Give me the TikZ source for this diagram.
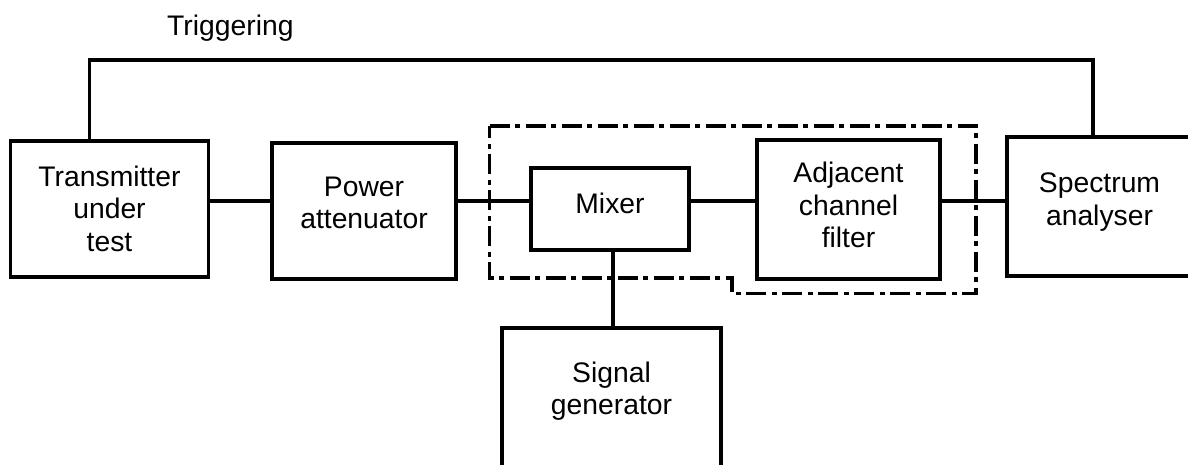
\documentclass[tikz,border=0pt]{standalone}
\usepackage{fontspec}
\setmainfont{Liberation Sans}
\begin{document}
\begin{tikzpicture}[x=1pt,y=-1pt,
  box/.style={draw, line width=3.6pt, inner sep=0pt, outer sep=0pt, minimum width=#1},
  lbl/.style={align=center, inner sep=0pt, font=\fontsize{28.3}{32.5}\selectfont},
  conn/.style={line width=3.8pt},
  border/.style={line width=3.8pt, dash pattern=on 20pt off 5.5pt on 5pt off 5.5pt}]
\clip (0,0) rectangle (1188,464);
% boxes
\node[box=198pt, minimum height=136pt] (tx) at (109.5,209) {};
\node[box=184pt, minimum height=136pt] (pa) at (364,211) {};
\node[box=158pt, minimum height=82pt] (mx) at (610,209) {};
\node[box=183pt, minimum height=139pt] (fl) at (848.5,209.5) {};
\node[box=200pt, minimum height=139pt] (sa) at (1107,206.3) {};
\node[box=219pt, minimum height=160pt] (sg) at (611.5,408) {};
% labels
\node[lbl] (txt) at (109.5,208.5) {Transmitter\\under\\test};
\node[lbl] (pat) at (364,203) {Power\\attenuator};
\node[lbl] (mxt) at (610,203) {Mixer};
\node[lbl] (flt) at (848.5,205) {Adjacent\\channel\\filter};
\node[lbl] (sat) at (1099.5,202) {Spectrum\\analyser};
\node[lbl] (sgt) at (611.5,391) {Signal\\generator};
\node[lbl, anchor=base west] (trg) at (167,35) {Triggering};
% connectors
\coordinate (ly) at (0,201);
\draw[conn] (tx.east |- ly) -- (pa.west |- ly);
\draw[conn] (pa.east |- ly) -- (mx.west |- ly);
\draw[conn] (mx.east |- ly) -- (fl.west |- ly);
\draw[conn] (fl.east |- ly) -- (sa.west |- ly);
\draw[conn] (mx.south -| 613,0) -- (sg.north -| 613,0);
\draw[conn] (tx.north -| 89.5,0) -- (89.5,60) -- (1093,60) -- (sa.north -| 1093,0);
% dash-dot boundary
\draw[border] (489.5,126) -- (976,126) -- (976,293.5) -- (732,293.5) -- (732,278) -- (489.5,278) -- cycle;
\end{tikzpicture}
\end{document}
